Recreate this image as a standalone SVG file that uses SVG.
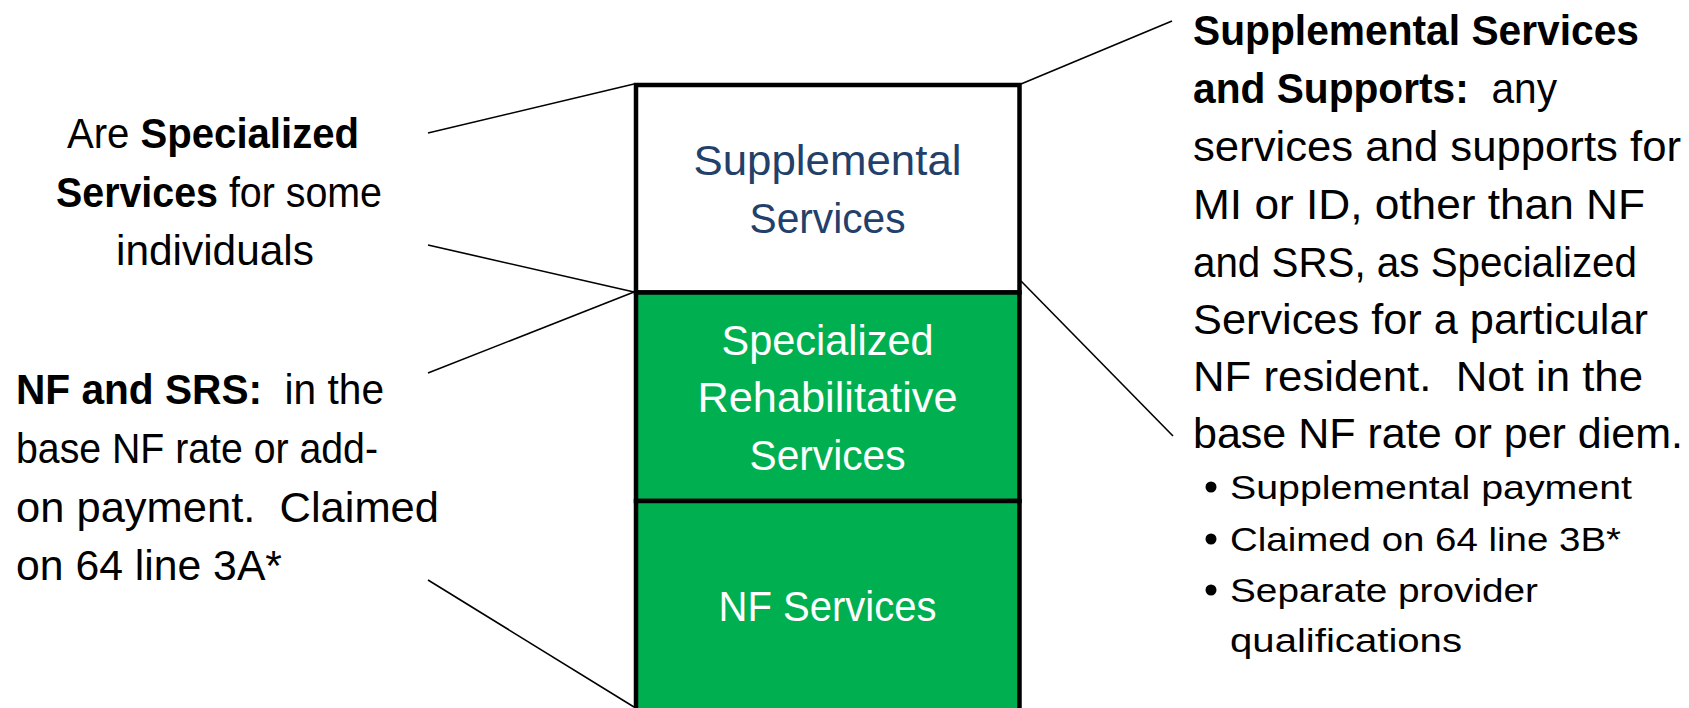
<svg xmlns="http://www.w3.org/2000/svg" width="1689" height="708" viewBox="0 0 1689 708">
<style>
.t{font-family:"Liberation Sans",Arial,sans-serif;font-size:42px;fill:#000;white-space:pre}
.s{font-family:"Liberation Sans",Arial,sans-serif;font-size:34px;fill:#000}
.b{font-weight:bold}
.bx{font-family:"Liberation Sans",Arial,sans-serif;font-size:42px;text-anchor:middle}
.blue{fill:#22406A}
.white{fill:#fff}
.ln{stroke:#000;stroke-width:1.6;fill:none}
.box{stroke:#000;stroke-width:4.5}
</style>
<rect width="1689" height="708" fill="#fff"/>
<g id="connectors">
<line class="ln" x1="428" y1="133" x2="634" y2="84"/>
<line class="ln" x1="428" y1="245" x2="634" y2="292"/>
<line class="ln" x1="428" y1="373" x2="634" y2="292"/>
<line class="ln" x1="428" y1="580" x2="634" y2="707"/>
<line class="ln" x1="1021" y1="84" x2="1172" y2="21"/>
<line class="ln" x1="1021" y1="281" x2="1173" y2="436"/>
</g>
<g id="node-supplemental">
<rect class="box" x="636" y="85" width="383.5" height="207.5" fill="#fff"/>
<text class="bx blue" x="827.5" y="175" textLength="268" lengthAdjust="spacingAndGlyphs">Supplemental</text>
<text class="bx blue" x="827.5" y="233" textLength="156" lengthAdjust="spacingAndGlyphs">Services</text>
</g>
<g id="node-srs">
<rect class="box" x="636" y="292.5" width="383.5" height="208.5" fill="#00B050"/>
<text class="bx white" x="827.5" y="355" textLength="212" lengthAdjust="spacingAndGlyphs">Specialized</text>
<text class="bx white" x="827.5" y="412" textLength="260" lengthAdjust="spacingAndGlyphs">Rehabilitative</text>
<text class="bx white" x="827.5" y="470" textLength="156" lengthAdjust="spacingAndGlyphs">Services</text>
</g>
<g id="node-nf">
<rect class="box" x="636" y="501" width="383.5" height="212" fill="#00B050"/>
<text class="bx white" x="827.5" y="621" textLength="218" lengthAdjust="spacingAndGlyphs">NF Services</text>
</g>
<g id="label-specialized" text-anchor="middle">
<text class="t" x="213" y="148" textLength="292" lengthAdjust="spacingAndGlyphs">Are <tspan class="b">Specialized</tspan></text>
<text class="t" x="219" y="207" textLength="326" lengthAdjust="spacingAndGlyphs"><tspan class="b">Services</tspan> for some</text>
<text class="t" x="215" y="265" textLength="198" lengthAdjust="spacingAndGlyphs">individuals</text>
</g>
<g id="label-nf-srs">
<text class="t" x="16" y="404" textLength="368" lengthAdjust="spacingAndGlyphs" xml:space="preserve"><tspan class="b">NF and SRS:</tspan>  in the</text>
<text class="t" x="16" y="463" textLength="362" lengthAdjust="spacingAndGlyphs">base NF rate or add-</text>
<text class="t" x="16" y="522" textLength="423" lengthAdjust="spacingAndGlyphs" xml:space="preserve">on payment.  Claimed</text>
<text class="t" x="16" y="580" textLength="266" lengthAdjust="spacingAndGlyphs">on 64 line 3A*</text>
</g>
<g id="label-supplemental">
<text class="t b" x="1193" y="45" textLength="446" lengthAdjust="spacingAndGlyphs">Supplemental Services</text>
<text class="t" x="1193" y="103" textLength="364" lengthAdjust="spacingAndGlyphs" xml:space="preserve"><tspan class="b">and Supports:</tspan>  any</text>
<text class="t" x="1193" y="161" textLength="488" lengthAdjust="spacingAndGlyphs">services and supports for</text>
<text class="t" x="1193" y="219" textLength="452" lengthAdjust="spacingAndGlyphs">MI or ID, other than NF</text>
<text class="t" x="1193" y="277" textLength="444" lengthAdjust="spacingAndGlyphs">and SRS, as Specialized</text>
<text class="t" x="1193" y="334" textLength="455" lengthAdjust="spacingAndGlyphs">Services for a particular</text>
<text class="t" x="1193" y="391" textLength="450" lengthAdjust="spacingAndGlyphs" xml:space="preserve">NF resident.  Not in the</text>
<text class="t" x="1193" y="448" textLength="490" lengthAdjust="spacingAndGlyphs">base NF rate or per diem.</text>
<circle cx="1211" cy="487" r="5.5"/>
<circle cx="1211" cy="539" r="5.5"/>
<circle cx="1211" cy="590" r="5.5"/>
<text class="s" x="1230" y="499" textLength="402" lengthAdjust="spacingAndGlyphs">Supplemental payment</text>
<text class="s" x="1230" y="551" textLength="391" lengthAdjust="spacingAndGlyphs">Claimed on 64 line 3B*</text>
<text class="s" x="1230" y="602" textLength="308" lengthAdjust="spacingAndGlyphs">Separate provider</text>
<text class="s" x="1230" y="652" textLength="232" lengthAdjust="spacingAndGlyphs">qualifications</text>
</g>
</svg>
